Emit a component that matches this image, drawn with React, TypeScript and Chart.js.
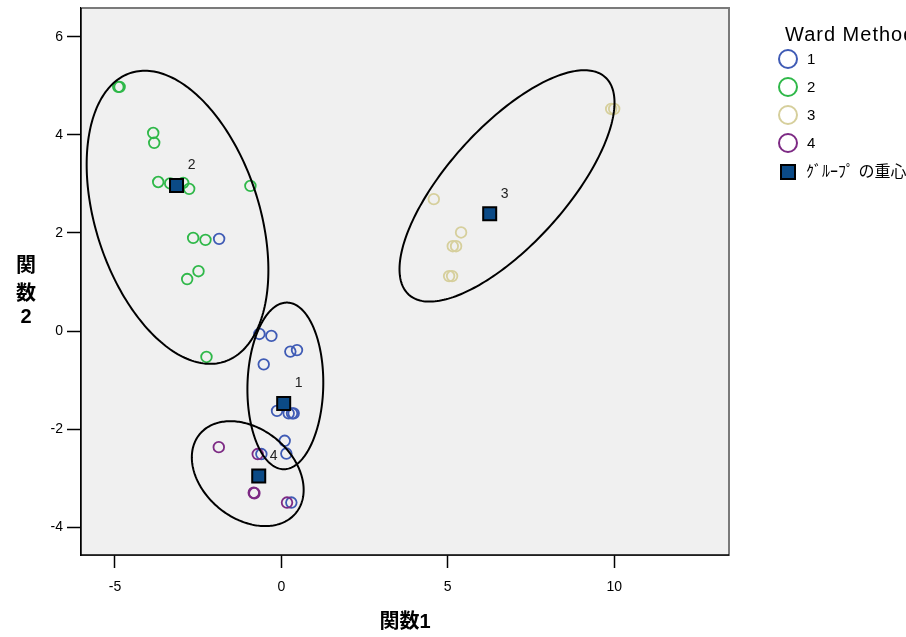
import React, { useEffect, useRef } from "react";
import { Chart, registerables } from "chart.js";

Chart.register(...registerables);

// ---- data ----
const groupLabels = ["1", "2", "3", "4"];
const groupColors = ["#3f5bb5", "#2fb849", "#d6cf9c", "#7d2a84"];

const group1X = [-0.66, -0.30, 0.27, 0.47, -0.53, -0.13, 0.22, 0.32, 0.37, 0.10, 0.15, -0.60, 0.30, -1.87];
const group1Y = [-0.06, -0.10, -0.42, -0.39, -0.68, -1.63, -1.68, -1.68, -1.68, -2.24, -2.50, -2.51, -3.50, 1.88];

const group2X = [-4.90, -4.86, -3.85, -3.82, -3.70, -3.34, -2.95, -2.77, -0.93, -2.65, -2.28, -2.49, -2.83, -2.25];
const group2Y = [4.98, 4.98, 4.04, 3.84, 3.04, 3.01, 3.02, 2.90, 2.96, 1.90, 1.86, 1.22, 1.06, -0.53];

const group3X = [4.58, 5.40, 5.15, 5.25, 5.04, 5.13, 9.91, 10.00];
const group3Y = [2.69, 2.01, 1.73, 1.73, 1.12, 1.12, 4.53, 4.53];

const group4X = [-1.88, -0.71, -0.81, -0.83, 0.17];
const group4Y = [-2.37, -2.51, -3.31, -3.30, -3.50];

const centroidLabels = ["1", "2", "3", "4"];
const centroidX = [0.07, -3.15, 6.26, -0.68];
const centroidY = [-1.48, 2.97, 2.39, -2.96];
const centroidLegend = "ｸﾞﾙｰﾌﾟ の重心";

// territory ellipses: centre, x half-extent, y half-extent, correlation
const ellipseCX = [0.12, -3.12, 6.78, -1.01];
const ellipseCY = [-1.12, 2.32, 2.96, -2.91];
const ellipseRX = [1.14, 2.73, 3.23, 1.68];
const ellipseRY = [1.70, 2.99, 2.36, 1.07];
const ellipseRho = [0.04, -0.36, 0.72, -0.31];

const xTicks = [-5, 0, 5, 10];
const yTicks = [-4, -2, 0, 2, 4, 6];
const xTitle = "関数1";
const yTitleChars = ["関", "数", "2"];
const legendTitle = "Ward Method";

const FONT = "'Liberation Sans', Arial, 'Noto Sans CJK JP', sans-serif";

const pts = (xs: number[], ys: number[]) => xs.map((x, i) => ({ x, y: ys[i] }));

const decorPlugin = {
  id: "decor",
  beforeDatasetsDraw(chart: any) {
    const { ctx, chartArea: a } = chart;
    ctx.save();
    ctx.fillStyle = "#f0f0f0";
    ctx.fillRect(a.left, a.top, a.right - a.left, a.bottom - a.top);
    ctx.restore();
  },
  afterDatasetsDraw(chart: any) {
    const { ctx, chartArea: a, scales } = chart;
    const xs = scales.x, ys = scales.y;
    ctx.save();
    ctx.beginPath();
    ctx.rect(a.left, a.top, a.right - a.left, a.bottom - a.top);
    ctx.clip();
    ctx.strokeStyle = "#000";
    ctx.lineWidth = 2;
    for (let e = 0; e < ellipseCX.length; e++) {
      const rho = ellipseRho[e];
      const s = Math.sqrt(1 - rho * rho);
      ctx.beginPath();
      const N = 240;
      for (let k = 0; k <= N; k++) {
        const t = (k / N) * Math.PI * 2;
        const vx = ellipseCX[e] + ellipseRX[e] * Math.cos(t);
        const vy = ellipseCY[e] + ellipseRY[e] * (rho * Math.cos(t) + s * Math.sin(t));
        const px = xs.getPixelForValue(vx);
        const py = ys.getPixelForValue(vy);
        if (k === 0) ctx.moveTo(px, py);
        else ctx.lineTo(px, py);
      }
      ctx.closePath();
      ctx.stroke();
    }
    ctx.restore();
  },
  afterDraw(chart: any) {
    const { ctx, chartArea: a, scales } = chart;
    const xs = scales.x, ys = scales.y;
    ctx.save();
    // frame shadow (top and right)
    ctx.strokeStyle = "#7a7a7a";
    ctx.lineWidth = 2;
    ctx.beginPath();
    ctx.moveTo(a.left, a.top);
    ctx.lineTo(a.right, a.top);
    ctx.lineTo(a.right, a.bottom);
    ctx.stroke();
    ctx.strokeStyle = "#000";
    ctx.lineWidth = 1.5;
    ctx.beginPath();
    ctx.moveTo(a.left, a.top);
    ctx.lineTo(a.left, a.bottom);
    ctx.lineTo(a.right, a.bottom);
    ctx.stroke();

    // centroid labels
    ctx.fillStyle = "#222";
    ctx.font = `14px ${FONT}`;
    ctx.textAlign = "center";
    ctx.textBaseline = "middle";
    centroidLabels.forEach((lab, i) => {
      const px = xs.getPixelForValue(centroidX[i]);
      const py = ys.getPixelForValue(centroidY[i]);
      ctx.fillText(lab, px + 15, py - 20);
    });

    // y-axis title, stacked
    ctx.fillStyle = "#000";
    ctx.font = `bold 20px ${FONT}`;
    const yOffs = [-15, 13, 36];
    const midY = (a.top + a.bottom) / 2;
    yTitleChars.forEach((c, i) => {
      ctx.fillText(c, 26, midY + yOffs[i]);
    });

    // legend
    const lx = a.right;
    ctx.textAlign = "left";
    ctx.font = `20px ${FONT}`;
    (ctx as any).letterSpacing = "1px";
    ctx.fillText(legendTitle, lx + 56, 35);
    (ctx as any).letterSpacing = "0px";
    ctx.font = `15px ${FONT}`;
    groupLabels.forEach((lab, i) => {
      const cy = 59 + 28 * i;
      ctx.beginPath();
      ctx.arc(lx + 59, cy, 9, 0, Math.PI * 2);
      ctx.strokeStyle = groupColors[i];
      ctx.lineWidth = 2;
      ctx.stroke();
      ctx.fillStyle = "#000";
      ctx.fillText(lab, lx + 78, cy + 1);
    });
    const sy = 59 + 28 * 4 + 1;
    ctx.fillStyle = "#0b4a86";
    ctx.fillRect(lx + 52, sy - 7, 14, 14);
    ctx.strokeStyle = "#000";
    ctx.lineWidth = 2;
    ctx.strokeRect(lx + 52, sy - 7, 14, 14);
    ctx.fillStyle = "#000";
    ctx.font = `16px ${FONT}`;
    ctx.fillText(centroidLegend, lx + 77, sy + 1);
    ctx.restore();
  },
};

export default function App() {
  const ref = useRef<HTMLCanvasElement | null>(null);
  useEffect(() => {
    document.body.style.margin = "0";
    const canvas = ref.current!;
    const groupXs = [group1X, group2X, group3X, group4X];
    const groupYs = [group1Y, group2Y, group3Y, group4Y];
    const orders = [4, 3, 2, 1];
    const datasets: any[] = groupLabels.map((lab, i) => ({
      label: lab,
      data: pts(groupXs[i], groupYs[i]),
      pointStyle: "circle",
      pointRadius: 5.3,
      pointBorderWidth: 1.8,
      borderColor: groupColors[i],
      pointBorderColor: groupColors[i],
      backgroundColor: "rgba(0,0,0,0)",
      pointBackgroundColor: "rgba(0,0,0,0)",
      showLine: false,
      order: orders[i],
    }));
    datasets.push({
      label: centroidLegend,
      data: pts(centroidX, centroidY),
      pointStyle: "rect",
      pointRadius: 9.2,
      pointBorderWidth: 2,
      pointBorderColor: "#000",
      pointBackgroundColor: "#0b4a86",
      showLine: false,
      order: 0,
    });
    const chart = new Chart(canvas, {
      type: "scatter",
      data: { datasets },
      options: {
        animation: false,
        responsive: false,
        devicePixelRatio: 1,
        layout: { autoPadding: false, padding: { top: 8, right: 177, bottom: 0, left: 0 } },
        plugins: { legend: { display: false }, tooltip: { enabled: false } },
        events: [],
        scales: {
          x: {
            type: "linear",
            min: -6.02,
            max: 13.45,
            afterBuildTicks: (s: any) => {
              s.ticks = xTicks.map((v) => ({ value: v }));
            },
            afterFit: (s: any) => {
              s.height = 82;
              s.paddingLeft = 0;
              s.paddingRight = 0;
            },
            grid: { display: true, drawOnChartArea: false, drawTicks: true, tickLength: 13, tickColor: "#000", tickWidth: 1.5 },
            border: { display: true, color: "#000", width: 1.5 },
            ticks: { color: "#000", font: { size: 14, family: FONT }, padding: 11, maxRotation: 0 },
            title: { display: true, text: xTitle, color: "#000", font: { size: 20, weight: "bold", family: FONT }, padding: { top: 4, bottom: 3 } },
          },
          y: {
            type: "linear",
            min: -4.57,
            max: 6.59,
            afterBuildTicks: (s: any) => {
              s.ticks = yTicks.map((v) => ({ value: v }));
            },
            afterFit: (s: any) => {
              s.width = 81;
              s.paddingTop = 0;
              s.paddingBottom = 0;
            },
            grid: { display: true, drawOnChartArea: false, drawTicks: true, tickLength: 14, tickColor: "#000", tickWidth: 1.5 },
            border: { display: true, color: "#000", width: 1.5 },
            ticks: { color: "#000", font: { size: 14, family: FONT }, padding: 4 },
          },
        },
      },
      plugins: [decorPlugin],
    });
    return () => chart.destroy();
  }, []);
  return (
    <div style={{ width: 906, height: 637 }}>
      <canvas ref={ref} width={906} height={637} style={{ display: "block" }} />
    </div>
  );
}
